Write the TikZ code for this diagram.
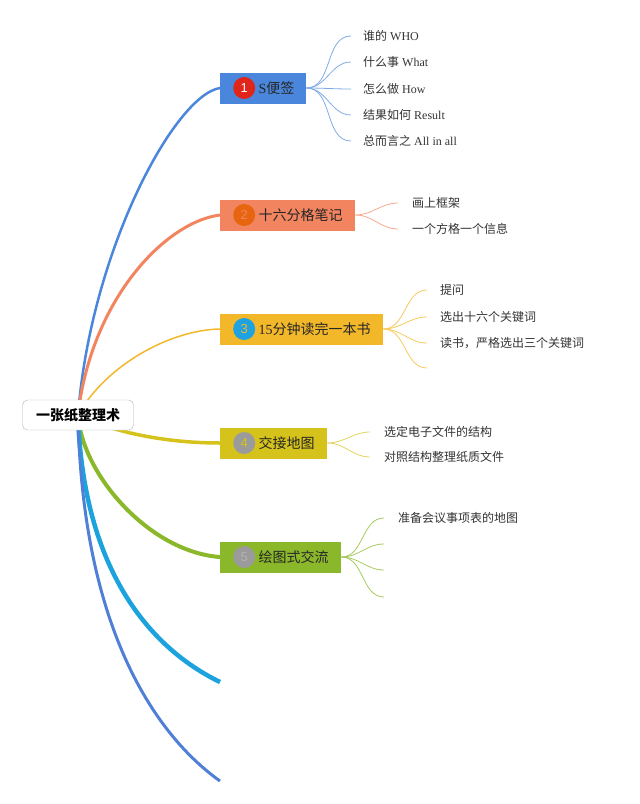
\documentclass[tikz,border=0pt]{standalone}
\usepackage{fontspec}
\setmainfont{Liberation Serif}
\newfontfamily\cjk{Noto Sans CJK SC}
\newfontfamily\numfont{Liberation Sans}
\usepackage{xcolor}
\usetikzlibrary{positioning}

\definecolor{blueA}{HTML}{4A86DB}
\definecolor{salmonB}{HTML}{F2845F}
\definecolor{goldC}{HTML}{F2B82A}
\definecolor{oliveD}{HTML}{D5C21B}
\definecolor{greenE}{HTML}{8AB82A}
\definecolor{cyanF}{HTML}{1CA3DE}
\definecolor{blueG}{HTML}{4F7FD6}
\definecolor{dotRed}{HTML}{E0261A}
\definecolor{dotOrange}{HTML}{E8650F}
\definecolor{dotBlue}{HTML}{1EA2E0}
\definecolor{dotGray}{HTML}{9B9B9B}

\pgfdeclarelayer{bg}
\pgfsetlayers{bg,main}

\tikzset{
  branch/.style={rectangle, minimum height=31pt, inner sep=0pt, anchor=west},
  numdot/.style={circle, minimum size=22pt, inner sep=0pt, font=\numfont\fontsize{13}{13}\selectfont},
  title/.style={anchor=west, inner sep=0pt, font=\fontsize{14}{16}\selectfont, text=black!85},
  leaf/.style={anchor=west, inner sep=2pt, font=\fontsize{12}{14}\selectfont, text=black!80},
  twig/.style={line width=0.8pt},
}

\begin{document}
\begin{tikzpicture}[x=1pt, y=-1pt]
  \useasboundingbox (0,0) rectangle (640,804);
  \coordinate (rc) at (78,415);

  % Branch boxes
  \node[branch, fill=blueA, minimum width=86pt] (b1) at (220,88) {};
  \node[branch, fill=salmonB, minimum width=135pt] (b2) at (220,215) {};
  \node[branch, fill=goldC, minimum width=163pt] (b3) at (220,329) {};
  \node[branch, fill=oliveD, minimum width=107pt] (b4) at (220,443) {};
  \node[branch, fill=greenE, minimum width=121pt] (b5) at (220,557) {};
  \coordinate (b6) at (220,682);
  \coordinate (b7) at (220,781);

  % Numbers and titles
  \node[numdot, fill=dotRed, text=white, right=13pt of b1.west] (n1) {1};
  \node[numdot, fill=dotOrange, text=salmonB, right=13pt of b2.west] (n2) {2};
  \node[numdot, fill=dotBlue, text=goldC, right=13pt of b3.west] (n3) {3};
  \node[numdot, fill=dotGray, text=oliveD, right=13pt of b4.west] (n4) {4};
  \node[numdot, fill=dotGray, text=black!30, right=13pt of b5.west] (n5) {5};

  \node[title, right=3pt of n1] (t1) {S{\cjk 便签}};
  \node[title, right=3pt of n2] (t2) {\cjk 十六分格笔记};
  \node[title, right=3pt of n3] (t3) {15{\cjk 分钟读完一本书}};
  \node[title, right=3pt of n4] (t4) {\cjk 交接地图};
  \node[title, right=3pt of n5] (t5) {\cjk 绘图式交流};

  % Leaves
  \node[leaf] (l11) at (361,36) {{\cjk 谁的} WHO};
  \node[leaf] (l12) at (361,62) {{\cjk 什么事} What};
  \node[leaf] (l13) at (361,89) {{\cjk 怎么做} How};
  \node[leaf] (l14) at (361,115) {{\cjk 结果如何} Result};
  \node[leaf] (l15) at (361,141) {{\cjk 总而言之} All in all};

  \node[leaf] (l21) at (410,203) {\cjk 画上框架};
  \node[leaf] (l22) at (410,229) {\cjk 一个方格一个信息};

  \node[leaf] (l31) at (438,290) {\cjk 提问};
  \node[leaf] (l32) at (438,317) {\cjk 选出十六个关键词};
  \node[leaf] (l33) at (438,343) {\cjk 读书，严格选出三个关键词};
  \coordinate (l34) at (427,368);

  \node[leaf] (l41) at (382,432) {\cjk 选定电子文件的结构};
  \node[leaf] (l42) at (382,457) {\cjk 对照结构整理纸质文件};

  \node[leaf] (l51) at (396,518) {\cjk 准备会议事项表的地图};
  \coordinate (l52) at (384,544);
  \coordinate (l53) at (384,570);
  \coordinate (l54) at (384,597);

  % Main curves
  \begin{pgfonlayer}{bg}
    \draw[line width=2.5pt, blueA] (rc) .. controls +(13,-165) and +(-45,7) .. (b1.west);
    \draw[line width=3pt, salmonB] (rc) .. controls +(13,-115) and +(-55,7) .. (b2.west);
    \draw[line width=1.5pt, goldC] (rc) .. controls +(28,-50) and +(-50,1) .. (b3.west);
    \draw[line width=3.5pt, oliveD] (rc) .. controls +(30,15) and +(-60,0) .. (b4.west);
    \draw[line width=4pt, greenE] (rc) .. controls +(4,60) and +(-70,-5) .. (b5.west);
    \draw[line width=4.5pt, cyanF] (rc) .. controls +(5,155) and +(-70,-34) .. (b6);
    \draw[line width=3pt, blueG] (rc) .. controls +(4,205) and +(-70,-50) .. (b7);
  \end{pgfonlayer}

  % Twigs
  \draw[twig, blueA!70] (b1.east) to[out=0, in=180] ([xshift=-10pt]l11.west);
  \draw[twig, blueA!70] (b1.east) to[out=0, in=180] ([xshift=-10pt]l12.west);
  \draw[twig, blueA!70] (b1.east) to[out=0, in=180] ([xshift=-10pt]l13.west);
  \draw[twig, blueA!70] (b1.east) to[out=0, in=180] ([xshift=-10pt]l14.west);
  \draw[twig, blueA!70] (b1.east) to[out=0, in=180] ([xshift=-10pt]l15.west);

  \draw[twig, salmonB!70] (b2.east) to[out=0, in=180] ([xshift=-12pt]l21.west);
  \draw[twig, salmonB!70] (b2.east) to[out=0, in=180] ([xshift=-12pt]l22.west);

  \draw[twig, goldC!75] (b3.east) to[out=0, in=180] ([xshift=-11pt]l31.west);
  \draw[twig, goldC!75] (b3.east) to[out=0, in=180] ([xshift=-11pt]l32.west);
  \draw[twig, goldC!75] (b3.east) to[out=0, in=180] ([xshift=-11pt]l33.west);
  \draw[twig, goldC!75] (b3.east) to[out=0, in=180] (l34);

  \draw[twig, oliveD!70] (b4.east) to[out=0, in=180] ([xshift=-12pt]l41.west);
  \draw[twig, oliveD!70] (b4.east) to[out=0, in=180] ([xshift=-12pt]l42.west);

  \draw[twig, greenE!75] (b5.east) to[out=0, in=180] ([xshift=-12pt]l51.west);
  \draw[twig, greenE!75] (b5.east) to[out=0, in=180] (l52);
  \draw[twig, greenE!75] (b5.east) to[out=0, in=180] (l53);
  \draw[twig, greenE!75] (b5.east) to[out=0, in=180] (l54);

  % Root
  \node[draw=black!30, fill=white, rounded corners=5pt, minimum width=111pt, minimum height=30pt,
        font=\cjk\bfseries\fontsize{14}{16}\selectfont] (root) at (rc) {一张纸整理术};
\end{tikzpicture}
\end{document}
